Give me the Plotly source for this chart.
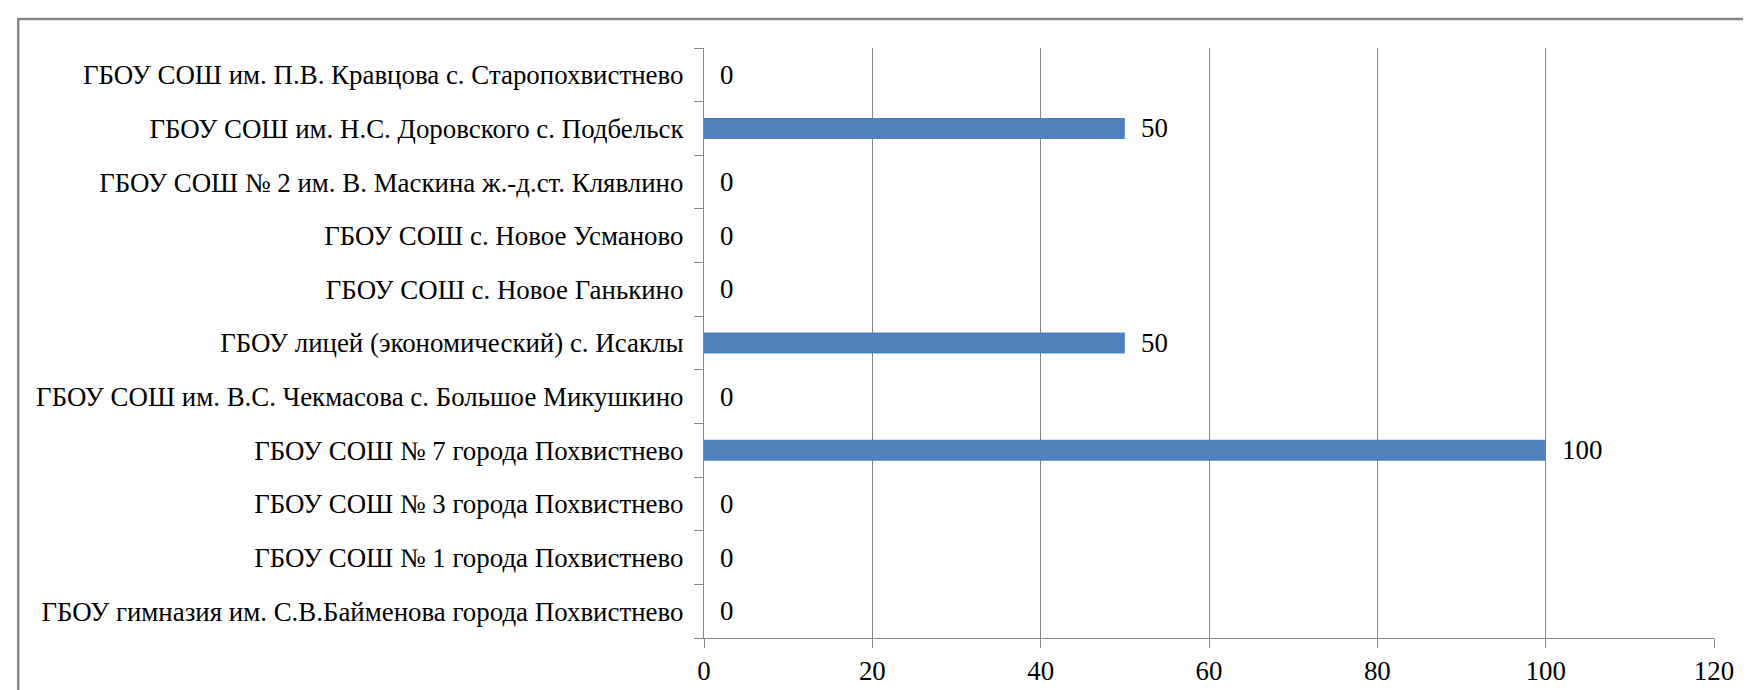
import plotly.graph_objects as go

categories = [
    "ГБОУ гимназия им. С.В.Байменова города Похвистнево",
    "ГБОУ СОШ № 1 города Похвистнево",
    "ГБОУ СОШ № 3 города Похвистнево",
    "ГБОУ СОШ № 7 города Похвистнево",
    "ГБОУ СОШ им. В.С. Чекмасова с. Большое Микушкино",
    "ГБОУ лицей (экономический) с. Исаклы",
    "ГБОУ СОШ с. Новое Ганькино",
    "ГБОУ СОШ с. Новое Усманово",
    "ГБОУ СОШ № 2 им. В. Маскина ж.-д.ст. Клявлино",
    "ГБОУ СОШ им. Н.С. Доровского с. Подбельск",
    "ГБОУ СОШ им. П.В. Кравцова с. Старопохвистнево",
]
values = [0, 0, 0, 100, 0, 50, 0, 0, 0, 50, 0]
x_ticks = [0, 20, 40, 60, 80, 100, 120]

FONT = "Liberation Serif, Times New Roman, serif"
FS = 26.9
GRID = "#878787"

fig = go.Figure()
fig.add_trace(go.Bar(
    y=categories, x=values, orientation="h",
    marker=dict(color="#4F81BD", line=dict(width=0)),
    hoverinfo="x+y",
))

for c, v in zip(categories, values):
    fig.add_annotation(x=v, y=c, text=str(v), showarrow=False,
                       xanchor="left", yanchor="middle", xshift=14,
                       font=dict(family=FONT, size=FS, color="#000000"))

fig.add_shape(type="rect", xref="paper", yref="paper",
              x0=-0.679, x1=1.5, y0=-0.3, y1=1.049,
              line=dict(color="#888888", width=2.5), layer="below")

fig.update_layout(
    width=1751, height=690,
    margin=dict(l=696, r=45, t=40, b=58),
    paper_bgcolor="white", plot_bgcolor="white",
    bargap=0.61, showlegend=False,
    font=dict(family=FONT, size=FS, color="#000000"),
    xaxis=dict(range=[0, 120], tickvals=x_ticks, showgrid=True,
               gridcolor=GRID, gridwidth=1.3, showline=True, linecolor=GRID,
               linewidth=1.3, ticks="outside", ticklen=9, tickcolor=GRID,
               tickwidth=1.3, zeroline=False, fixedrange=True,
               tickfont=dict(family=FONT, size=FS, color="#000000")),
    yaxis=dict(type="category", showgrid=False, showline=True, linecolor=GRID,
               linewidth=1.3, ticks="outside", ticklen=9, tickcolor=GRID,
               tickwidth=1.3, tickson="boundaries", ticklabelstandoff=14,
               fixedrange=True,
               tickfont=dict(family=FONT, size=FS, color="#000000")),
)

fig.write_html("out.html")
